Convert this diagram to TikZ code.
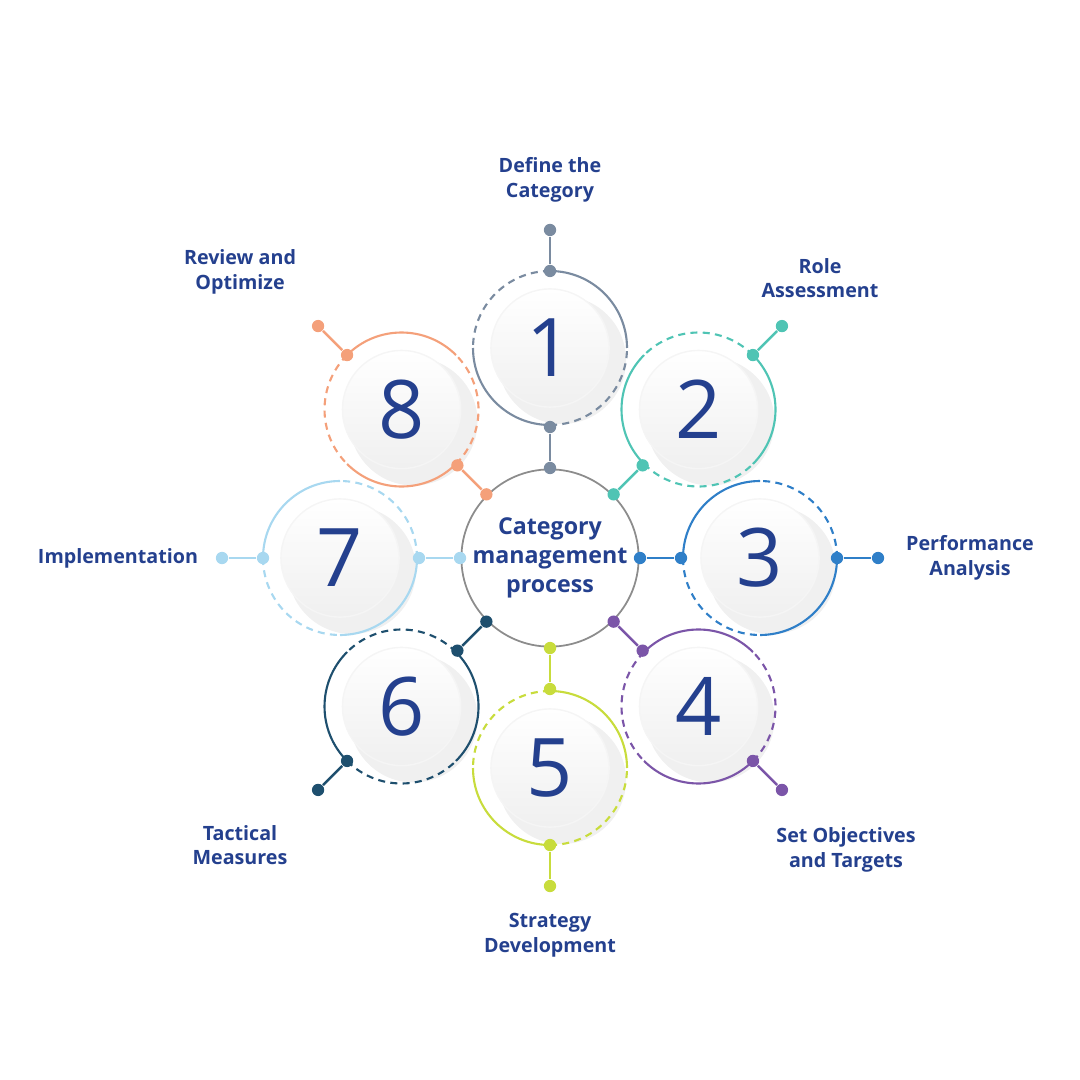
\documentclass[tikz,border=0pt]{standalone}
\usepackage{fontspec}
\setmainfont{Open Sans}
\usetikzlibrary{calc,positioning}
\definecolor{txt}{HTML}{24408E}
\definecolor{c1}{HTML}{7A8BA0}
\definecolor{c2}{HTML}{4FC4B4}
\definecolor{c3}{HTML}{2F7FC8}
\definecolor{c4}{HTML}{7B55A8}
\definecolor{c5}{HTML}{C8DC3C}
\definecolor{c6}{HTML}{1E4F6E}
\definecolor{c7}{HTML}{A8D8F0}
\definecolor{c8}{HTML}{F4A07A}
\begin{document}
\begin{tikzpicture}[x=0.01cm,y=-0.01cm,
  dot/.style={fill=#1,circle,inner sep=0pt,minimum size=12.5pt*0.28},
  disc/.style={circle,inner sep=0pt,minimum size=120pt*0.28,top color=white,bottom color=gray!12,draw=gray!8,font=\fontsize{23}{23}\selectfont\color{txt}},
  lbl/.style={align=center,font=\bfseries\fontsize{5.6}{7}\selectfont,text=txt}]
  \useasboundingbox (0,0) rectangle (1080,1080);
  \node[circle,draw=gray!90,line width=0.5pt,minimum size=180pt*0.28,inner sep=0pt] (hub) at (550,558) {};
  \node[lbl,font=\bfseries\fontsize{6.6}{8.2}\selectfont] (title) at (hub) {Category\\management\\process};
  \foreach \i/\col/\txt/\lx/\ly in {
    1/c1/{Define the\\Category}/550/180,
    2/c2/{Role\\Assessment}/820/278,
    3/c3/{Performance\\Analysis}/970/558,
    4/c4/{Set Objectives\\and Targets}/846/850,
    5/c5/{Strategy\\Development}/550/935,
    6/c6/{Tactical\\Measures}/240/845,
    7/c7/Implementation/118/558,
    8/c8/{Review and\\Optimize}/240/272}{
    \pgfmathsetmacro{\d}{90-45*(\i-1)}
    \coordinate (s\i) at ($(hub)+({210*cos(\d)},{-210*sin(\d)})$);
    % shadow and ring
    \fill[black,opacity=0.06] ($(s\i)+(12,12)$) circle (64);
    \draw[\col,line width=0.6pt] ($(s\i)+({77*cos(\d+90)},{-77*sin(\d+90)})$) arc[start angle=-\d-90,delta angle=-90,radius=77];
    \draw[\col,line width=0.6pt] ($(s\i)+({77*cos(\d+270)},{-77*sin(\d+270)})$) arc[start angle=-\d-270,delta angle=-90,radius=77];
    \draw[\col,line width=0.6pt,dash pattern=on 2pt off 1.5pt] ($(s\i)+({77*cos(\d)},{-77*sin(\d)})$) arc[start angle=-\d,delta angle=-90,radius=77];
    \draw[\col,line width=0.6pt,dash pattern=on 2pt off 1.5pt] ($(s\i)+({77*cos(\d+180)},{-77*sin(\d+180)})$) arc[start angle=-\d-180,delta angle=-90,radius=77];
    \node[disc] (n\i) at (s\i) {\i};
    % connectors
    \node[dot=\col] (h\i) at ($(hub)+({90*cos(\d)},{-90*sin(\d)})$) {};
    \node[dot=\col] (r\i) at ($(hub)+({131*cos(\d)},{-131*sin(\d)})$) {};
    \node[dot=\col] (o\i) at ($(hub)+({287*cos(\d)},{-287*sin(\d)})$) {};
    \node[dot=\col] (e\i) at ($(hub)+({328*cos(\d)},{-328*sin(\d)})$) {};
    \draw[\col,line width=0.7pt] (h\i) -- (r\i);
    \draw[\col,line width=0.7pt] (o\i) -- (e\i);
    \node[lbl] (l\i) at (\lx,\ly) {\txt};
  }
\end{tikzpicture}
\end{document}
